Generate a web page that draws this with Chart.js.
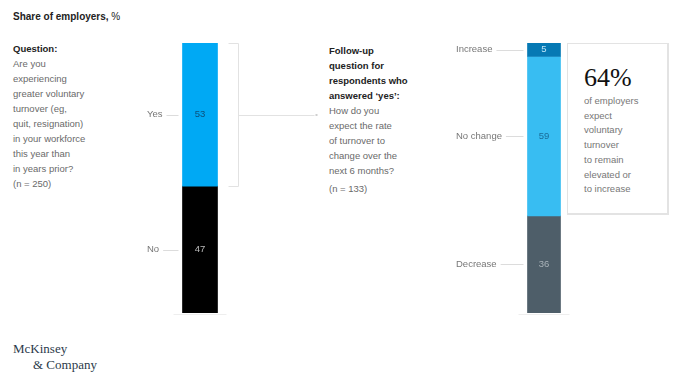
<!DOCTYPE html>
<html><head><meta charset="utf-8">
<script src="https://cdn.jsdelivr.net/npm/chart.js@4/dist/chart.umd.min.js"></script>
<style>
html,body{margin:0;padding:0;background:#fff;width:673px;height:375px;overflow:hidden;font-family:"Liberation Sans",Arial,sans-serif;}
.abs{position:absolute;}
#title{left:13px;top:11px;font-size:10px;color:#222;}
.q{font-size:9.5px;line-height:15px;color:#6a6a6a;}
.q b{color:#222;}
#box{left:567px;top:43px;width:102px;height:172px;border:1px solid #e3e3e3;border-right:2px solid #e3e3e3;border-bottom:2px solid #e3e3e3;box-sizing:border-box;background:#fff;}
#big{left:584px;top:63px;font-family:"Liberation Serif","DejaVu Serif",serif;font-size:26px;color:#111;}
#boxtxt{left:584px;top:94px;font-size:9.5px;line-height:14.7px;color:#777;}
#logo{left:13px;top:341px;font-family:"Liberation Serif",serif;font-size:13px;color:#2b3a4a;line-height:16px;}
</style></head>
<body>
<script>
const title = "Share of employers, %";
const categoriesLeft = ["Yes", "No"];
const valuesLeft = [53, 47];
const categoriesRight = ["Increase", "No change", "Decrease"];
const valuesRight = [5, 59, 36];
const highlightValue = "64%";
</script>
<div id="title" class="abs"><b>Share of employers,</b> %</div>
<div class="abs q" style="left:13px;top:41px;width:120px;"><b>Question:</b><br>Are you<br>experiencing<br>greater voluntary<br>turnover (eg,<br>quit, resignation)<br>in your workforce<br>this year than<br>in years prior?<br>(n = 250)</div>
<div class="abs q" style="left:329px;top:43px;width:120px;"><b>Follow-up<br>question for<br>respondents who<br>answered ‘yes’:</b><br>How do you<br>expect the rate<br>of turnover to<br>change over the<br>next 6 months?<br><span style="display:inline-block;margin-top:3px">(n = 133)</span></div>
<div id="box" class="abs"></div>
<div id="big" class="abs"></div>
<div id="boxtxt" class="abs">of employers<br>expect<br>voluntary<br>turnover<br>to remain<br>elevated or<br>to increase</div>
<div id="logo" class="abs">McKinsey<br><span style="padding-left:20px">&amp; Company</span></div>
<canvas id="cL" class="abs" style="left:100px;top:33px;"></canvas>
<canvas id="cR" class="abs" style="left:444px;top:33px;"></canvas>
<script>
document.getElementById('big').textContent = highlightValue;
const labelPlugin = {
  id: 'segLabels',
  afterDatasetsDraw(chart, args, opts) {
    const ctx = chart.ctx;
    ctx.save();
    chart.data.datasets.forEach((ds, i) => {
      const el = chart.getDatasetMeta(i).data[0];
      if (!el) return;
      const mid = (el.y + el.base) / 2;
      const left = el.x - el.width / 2;
      ctx.font = '9.5px "Liberation Sans", Arial, sans-serif';
      ctx.textBaseline = 'middle';
      ctx.textAlign = 'center';
      ctx.fillStyle = ds.valueColor;
      ctx.fillText(String(ds.data[0]), el.x, mid);
      ctx.textAlign = 'left';
      ctx.fillStyle = '#777';
      ctx.fillText(ds.label, opts.labelX, mid);
      const w = ctx.measureText(ds.label).width;
      ctx.strokeStyle = '#dcdcdc';
      ctx.lineWidth = 1;
      ctx.beginPath();
      ctx.moveTo(opts.labelX + w + 4, Math.round(mid) + 0.5);
      ctx.lineTo(left - 4, Math.round(mid) + 0.5);
      ctx.stroke();
    });
    const el0 = chart.getDatasetMeta(0).data[0];
    const area = chart.chartArea;
    ctx.strokeStyle = '#eeeeee';
    ctx.beginPath();
    ctx.moveTo(el0.x - el0.width / 2 - 9, area.bottom + 1.5);
    ctx.lineTo(el0.x + el0.width / 2 + 9, area.bottom + 1.5);
    ctx.stroke();
    if (opts.bracket) {
      const el = chart.getDatasetMeta(0).data[0];
      const right = el.x + el.width / 2;
      const top = Math.round(Math.min(el.y, el.base)) + 0.5;
      const bot = Math.round(Math.max(el.y, el.base)) + 0.5;
      const mid = Math.round((top + bot) / 2) + 0.5;
      const bx = Math.round(right + 20) + 0.5;
      ctx.strokeStyle = '#e2e2e2';
      ctx.beginPath();
      ctx.moveTo(right + 11, top); ctx.lineTo(bx, top); ctx.lineTo(bx, bot); ctx.lineTo(right + 11, bot);
      ctx.moveTo(bx, mid); ctx.lineTo(right + 97, mid);
      ctx.stroke();
      ctx.fillStyle = '#cfcfcf';
      ctx.fillRect(right + 98, mid - 1.5, 2, 2);
    }
    ctx.restore();
  }
};
function makeChart(id, cats, vals, colors, valueColors, thickness, labelX, padRight, bracket) {
  return new Chart(document.getElementById(id), {
    type: 'bar',
    data: {
      labels: [''],
      datasets: cats.map((c, i) => ({
        label: c, data: [vals[i]], backgroundColor: colors[i], valueColor: valueColors[i],
        barThickness: thickness, borderWidth: 0, borderSkipped: false
      }))
    },
    options: {
      responsive: false, animation: false, devicePixelRatio: 1,
      layout: { padding: { top: 10, bottom: 10, left: 0, right: padRight } },
      scales: {
        x: { display: false, stacked: true },
        y: { display: false, stacked: true, min: 0, max: 100, reverse: true }
      },
      plugins: { legend: { display: false }, tooltip: { enabled: false },
        segLabels: { labelX: labelX, bracket: bracket } }
    },
    plugins: [labelPlugin]
  });
}
const cL = document.getElementById('cL'); cL.width = 230; cL.height = 290;
const cR = document.getElementById('cR'); cR.width = 200; cR.height = 290;
makeChart('cL', categoriesLeft, valuesLeft, ['#00a9f4', '#000000'], ['#0b4f7a', '#bdbdbd'], 35, 47, 30, true);
makeChart('cR', categoriesRight, valuesRight, ['#0679b4', '#38bdf2', '#4e5e69'], ['#bfe6f7', '#1a6c98', '#aab3b9'], 33, 12, 0, false);
</script>
</body></html>
